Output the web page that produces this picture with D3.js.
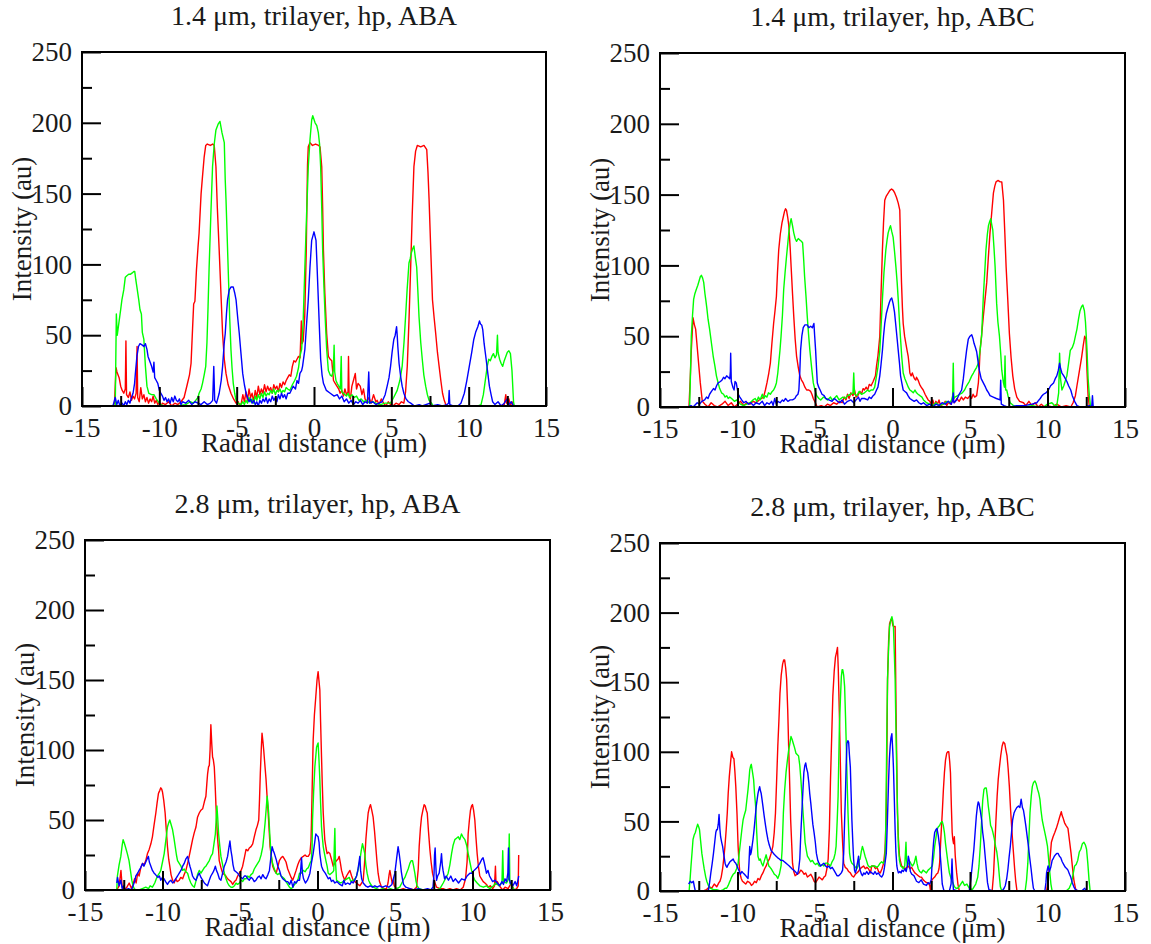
<!DOCTYPE html>
<html>
<head>
<meta charset="utf-8">
<script src="https://cdn.jsdelivr.net/npm/d3@7"></script>
<style>
  html, body { margin: 0; padding: 0; background: #ffffff; }
  svg { display: block; }
  text { font-family: "Liberation Serif", "Times New Roman", serif; fill: #1a1a1a; }
</style>
</head>
<body>
<svg id="chart" width="1151" height="944"></svg>
<script>
// ---- Panel titles and axis ticks ----
const panelTitles = [
  "1.4 \u03bcm, trilayer, hp, ABA",
  "1.4 \u03bcm, trilayer, hp, ABC",
  "2.8 \u03bcm, trilayer, hp, ABA",
  "2.8 \u03bcm, trilayer, hp, ABC"
];
const xMajorTicks = [-15, -10, -5, 0, 5, 10, 15];
const xMinorTicks = [-12.5, -7.5, -2.5, 2.5, 7.5, 12.5];
const yMajorTicks = [0, 50, 100, 150, 200, 250];
const yMinorTicks = [25, 75, 125, 175, 225];
const xTitle = "Radial distance (\u03bcm)";
const yTitle = "Intensity (au)";

// ---- Intensity profiles: [radial distance (um), intensity (au)] ----
// 1.4 um, ABA
const aba14Red = [[-13.0,0],[-12.9,2],[-12.8,27],[-12.74,24],[-12.6,20],[-12.5,14],[-12.4,11],[-12.3,9],[-12.2,12],[-12.16,46],[-12.12,8],[-12.0,6],[-11.9,10],[-11.8,4],[-11.7,7],[-11.6,5],[-11.5,9],[-11.44,42],[-11.4,6],[-11.3,3],[-11.2,13],[-11.1,5],[-11.0,8],[-10.9,3],[-10.8,6],[-10.7,2],[-10.6,5],[-10.5,3],[-10.4,7],[-10.3,2],[-10.2,4],[-10.1,1],[-10.0,3],[-9.9,0],[-9.8,2],[-9.6,1],[-9.4,3],[-9.2,0],[-9.0,2],[-8.8,1],[-8.6,3],[-8.4,6],[-8.2,15],[-8.05,22],[-7.95,30],[-7.85,55],[-7.78,72],[-7.7,74],[-7.6,96],[-7.5,112],[-7.43,122],[-7.3,150],[-7.21,162],[-7.1,176],[-7.0,184],[-6.9,185],[-6.7,184],[-6.55,185],[-6.45,184],[-6.34,169],[-6.25,140],[-6.13,110],[-6.0,75],[-5.91,51],[-5.8,33],[-5.69,23],[-5.55,15],[-5.37,9],[-5.2,5],[-5.04,2],[-4.9,3],[-4.8,0],[-4.7,2],[-4.6,8],[-4.5,3],[-4.4,10],[-4.3,4],[-4.2,12],[-4.1,6],[-4.0,9],[-3.9,3],[-3.8,11],[-3.7,6],[-3.6,14],[-3.5,8],[-3.4,12],[-3.3,9],[-3.2,15],[-3.1,10],[-3.0,14],[-2.9,11],[-2.8,13],[-2.7,9],[-2.6,15],[-2.5,12],[-2.4,14],[-2.3,10],[-2.2,16],[-2.1,13],[-2.0,17],[-1.9,15],[-1.8,18],[-1.7,20],[-1.6,22],[-1.5,21],[-1.4,28],[-1.3,32],[-1.2,31],[-1.1,33],[-1.0,35],[-0.9,34],[-0.82,60],[-0.78,44],[-0.7,46],[-0.6,63],[-0.5,110],[-0.42,170],[-0.37,183],[-0.26,186],[-0.1,184],[0.1,185],[0.3,184],[0.39,183],[0.5,169],[0.56,140],[0.61,110],[0.7,80],[0.82,51],[0.93,35],[1.05,33],[1.15,32],[1.26,18],[1.37,16],[1.48,14],[1.6,12],[1.69,9],[1.8,11],[1.9,7],[2.0,12],[2.1,8],[2.2,10],[2.23,35],[2.27,8],[2.35,5],[2.45,14],[2.55,18],[2.67,23],[2.75,12],[2.85,16],[2.99,14],[3.1,8],[3.2,12],[3.3,5],[3.43,3],[3.55,6],[3.7,2],[3.85,8],[4.0,3],[4.08,4],[4.2,1],[4.35,5],[4.5,2],[4.65,0],[4.8,3],[4.95,1],[5.1,0],[5.3,2],[5.5,1],[5.65,3],[5.81,2],[5.92,10],[6.03,28],[6.14,60],[6.25,98],[6.35,135],[6.46,169],[6.57,180],[6.68,184],[6.9,183],[7.11,184],[7.29,181],[7.37,165],[7.44,146],[7.55,110],[7.66,75],[7.77,62],[7.87,51],[7.98,38],[8.09,28],[8.2,18],[8.31,9],[8.42,4],[8.52,1],[8.7,0],[9.5,0],[10.5,0],[11.5,0],[12.0,0],[12.3,1],[12.4,8],[12.45,2],[12.6,5],[12.7,0],[12.8,3],[12.9,0]];
const aba14Green = [[-12.85,0],[-12.78,65],[-12.72,50],[-12.6,60],[-12.5,68],[-12.42,75],[-12.3,82],[-12.2,91],[-12.1,92],[-11.98,93],[-11.88,93],[-11.75,94],[-11.65,95],[-11.59,95],[-11.52,89],[-11.45,84],[-11.33,75],[-11.25,68],[-11.16,65],[-11.1,52],[-11.0,47],[-10.9,28],[-10.8,14],[-10.68,9],[-10.5,8],[-10.35,8],[-10.2,5],[-10.13,4],[-10.0,2],[-9.92,1],[-9.7,0],[-9.0,0],[-8.3,1],[-8.0,3],[-7.8,2],[-7.65,4],[-7.5,6],[-7.43,9],[-7.3,12],[-7.21,16],[-7.1,22],[-7.0,28],[-6.92,45],[-6.85,70],[-6.78,98],[-6.67,135],[-6.56,169],[-6.45,185],[-6.34,195],[-6.2,199],[-6.08,201],[-5.95,193],[-5.8,186],[-5.74,160],[-5.69,146],[-5.6,115],[-5.52,87],[-5.45,62],[-5.37,40],[-5.3,27],[-5.22,16],[-5.13,9],[-5.04,4],[-4.9,2],[-4.72,1],[-4.6,3],[-4.5,1],[-4.4,4],[-4.3,2],[-4.2,6],[-4.1,3],[-4.0,5],[-3.9,2],[-3.8,7],[-3.7,4],[-3.6,8],[-3.5,5],[-3.4,9],[-3.3,6],[-3.2,10],[-3.1,7],[-3.0,9],[-2.9,8],[-2.8,11],[-2.7,9],[-2.6,12],[-2.5,8],[-2.4,11],[-2.3,10],[-2.2,12],[-2.1,9],[-2.0,11],[-1.9,10],[-1.8,13],[-1.7,12],[-1.56,11],[-1.4,15],[-1.25,18],[-1.13,21],[-1.0,27],[-0.91,35],[-0.8,40],[-0.7,60],[-0.59,98],[-0.48,135],[-0.37,169],[-0.26,188],[-0.15,202],[-0.08,205],[0.07,200],[0.18,198],[0.28,193],[0.36,185],[0.43,169],[0.5,140],[0.56,110],[0.64,85],[0.72,63],[0.82,40],[0.93,25],[1.04,22],[1.15,21],[1.25,25],[1.3,43],[1.34,24],[1.42,18],[1.5,16],[1.6,14],[1.7,12],[1.76,35],[1.8,10],[1.9,9],[2.0,8],[2.1,7],[2.2,9],[2.3,6],[2.45,8],[2.6,6],[2.75,7],[2.9,4],[3.05,5],[3.2,3],[3.4,4],[3.6,2],[3.8,3],[4.0,2],[4.3,1],[4.6,2],[4.95,2],[5.15,6],[5.38,11],[5.55,18],[5.7,28],[5.82,45],[5.92,63],[6.02,82],[6.14,101],[6.22,104],[6.29,108],[6.38,111],[6.46,113],[6.55,105],[6.64,98],[6.72,80],[6.79,63],[6.9,45],[7.0,33],[7.1,22],[7.22,14],[7.33,8],[7.44,4],[7.6,2],[7.7,0],[9.0,0],[10.6,0],[10.8,1],[10.95,8],[11.1,20],[11.2,28],[11.3,33],[11.4,32],[11.5,35],[11.6,37],[11.7,34],[11.8,36],[11.86,50],[11.9,38],[12.0,33],[12.1,30],[12.2,28],[12.3,32],[12.4,35],[12.5,38],[12.6,39],[12.7,37],[12.8,25],[12.9,3],[12.95,0]];
const aba14Blue = [[-13.0,0],[-12.95,2],[-12.85,6],[-12.75,1],[-12.65,4],[-12.55,0],[-12.4,2],[-12.3,0],[-12.2,3],[-12.1,1],[-12.0,4],[-11.9,2],[-11.8,6],[-11.7,9],[-11.6,16],[-11.55,23],[-11.45,35],[-11.35,42],[-11.25,44],[-11.1,43],[-11.0,42],[-10.9,44],[-10.8,40],[-10.73,35],[-10.6,31],[-10.5,28],[-10.4,24],[-10.35,31],[-10.3,20],[-10.2,18],[-10.1,16],[-10.0,11],[-9.9,9],[-9.8,7],[-9.7,4],[-9.6,6],[-9.5,3],[-9.4,5],[-9.3,2],[-9.2,6],[-9.1,3],[-9.0,7],[-8.9,4],[-8.8,3],[-8.7,5],[-8.6,1],[-8.5,3],[-8.3,2],[-8.1,4],[-7.9,1],[-7.7,3],[-7.5,2],[-7.3,1],[-7.1,3],[-6.9,1],[-6.7,2],[-6.55,4],[-6.48,28],[-6.42,4],[-6.3,2],[-6.13,9],[-6.0,18],[-5.91,28],[-5.8,45],[-5.74,51],[-5.66,65],[-5.59,75],[-5.48,82],[-5.37,84],[-5.22,84],[-5.13,80],[-5.04,75],[-4.93,62],[-4.83,51],[-4.72,37],[-4.61,23],[-4.5,15],[-4.39,9],[-4.3,6],[-4.2,3],[-4.1,5],[-4.0,2],[-3.9,4],[-3.8,1],[-3.7,3],[-3.6,0],[-3.5,4],[-3.4,2],[-3.3,5],[-3.2,3],[-3.1,6],[-3.0,2],[-2.9,5],[-2.8,3],[-2.7,7],[-2.6,4],[-2.5,6],[-2.4,3],[-2.3,8],[-2.2,5],[-2.1,9],[-2.0,6],[-1.9,8],[-1.8,5],[-1.7,9],[-1.56,9],[-1.35,14],[-1.2,12],[-1.1,18],[-1.0,16],[-0.91,23],[-0.8,25],[-0.74,28],[-0.59,40],[-0.48,58],[-0.37,75],[-0.26,98],[-0.15,117],[0.0,123],[0.13,117],[0.2,98],[0.28,75],[0.36,52],[0.43,33],[0.52,22],[0.61,16],[0.8,11],[1.05,9],[1.3,7],[1.5,8],[1.65,5],[1.8,7],[1.95,3],[2.1,5],[2.25,2],[2.4,4],[2.55,1],[2.7,3],[2.85,2],[3.0,4],[3.15,1],[3.3,3],[3.45,2],[3.54,24],[3.6,2],[3.8,3],[4.0,1],[4.2,2],[4.4,3],[4.6,8],[4.73,14],[4.85,20],[4.95,28],[5.05,38],[5.16,47],[5.25,50],[5.34,56],[5.38,50],[5.42,42],[5.5,30],[5.6,21],[5.7,14],[5.81,9],[5.95,5],[6.1,3],[6.25,2],[6.5,0],[6.8,1],[7.0,0],[7.5,2],[7.6,0],[8.0,1],[8.3,0],[8.6,1],[8.7,2],[8.74,11],[8.78,1],[9.0,0],[9.3,0],[9.5,2],[9.72,9],[9.88,18],[10.04,28],[10.2,38],[10.33,47],[10.45,52],[10.59,56],[10.7,60],[10.76,58],[10.85,57],[10.91,54],[11.0,44],[11.13,33],[11.25,22],[11.34,14],[11.45,8],[11.55,3],[11.7,1],[11.9,3],[12.1,0],[12.3,2],[12.5,5],[12.6,1],[12.75,3],[12.9,0]];

// 1.4 um, ABC
const abc14Red = [[-13.13,0],[-13.05,20],[-12.98,40],[-12.87,63],[-12.78,58],[-12.7,55],[-12.55,36],[-12.4,17],[-12.27,4],[-12.1,2],[-11.9,0],[-11.7,3],[-11.5,1],[-11.3,0],[-11.0,2],[-10.8,4],[-10.6,1],[-10.4,3],[-10.2,0],[-10.0,2],[-9.8,4],[-9.6,1],[-9.4,3],[-9.2,2],[-9.0,4],[-8.8,3],[-8.6,5],[-8.45,6],[-8.32,7],[-8.2,12],[-8.1,17],[-7.98,24],[-7.88,31],[-7.78,45],[-7.67,59],[-7.58,68],[-7.49,78],[-7.42,95],[-7.34,111],[-7.24,122],[-7.13,130],[-7.05,134],[-6.97,138],[-6.9,140],[-6.84,139],[-6.76,134],[-6.69,128],[-6.6,112],[-6.54,99],[-6.45,80],[-6.37,64],[-6.28,48],[-6.19,36],[-6.08,28],[-5.98,22],[-5.87,19],[-5.76,17],[-5.65,14],[-5.54,12],[-5.4,12],[-5.28,11],[-5.2,9],[-5.11,6],[-4.98,3],[-4.85,0],[-4.6,1],[-4.4,0],[-4.2,2],[-4.0,1],[-3.8,3],[-3.6,2],[-3.4,4],[-3.25,3],[-3.11,7],[-3.0,5],[-2.9,9],[-2.8,6],[-2.68,10],[-2.55,8],[-2.45,12],[-2.35,7],[-2.24,8],[-2.1,11],[-2.0,9],[-1.9,13],[-1.81,12],[-1.7,14],[-1.6,12],[-1.5,16],[-1.38,15],[-1.25,18],[-1.1,22],[-1.03,29],[-0.94,36],[-0.82,50],[-0.74,80],[-0.65,111],[-0.58,130],[-0.5,146],[-0.4,149],[-0.28,151],[-0.17,153],[-0.06,154],[0.05,153],[0.15,151],[0.26,148],[0.37,144],[0.47,139],[0.53,110],[0.58,88],[0.64,70],[0.69,59],[0.78,50],[0.86,45],[0.94,40],[1.01,36],[1.07,30],[1.12,24],[1.2,22],[1.28,24],[1.34,22],[1.42,20],[1.5,19],[1.55,21],[1.65,19],[1.75,16],[1.85,14],[1.98,12],[2.1,9],[2.2,7],[2.3,5],[2.41,4],[2.5,2],[2.6,5],[2.7,1],[2.8,4],[2.9,2],[3.0,5],[3.1,1],[3.28,2],[3.4,4],[3.5,1],[3.6,3],[3.75,2],[3.9,5],[4.0,3],[4.15,6],[4.3,4],[4.45,7],[4.57,5],[4.7,7],[4.85,6],[5.0,8],[5.1,6],[5.2,9],[5.3,7],[5.43,8],[5.54,17],[5.6,28],[5.65,40],[5.76,52],[5.86,64],[5.97,76],[6.08,88],[6.18,105],[6.29,123],[6.4,137],[6.51,151],[6.6,156],[6.68,159],[6.8,160],[6.95,159],[7.05,159],[7.16,146],[7.25,122],[7.33,99],[7.44,75],[7.54,52],[7.65,35],[7.76,22],[7.88,13],[8.02,7],[8.2,4],[8.45,3],[8.6,1],[8.8,4],[9.0,1],[9.2,3],[9.4,0],[9.6,2],[9.8,0],[10.0,1],[10.3,0],[10.6,2],[10.9,0],[11.2,1],[11.5,0],[11.65,3],[11.8,8],[11.9,15],[12.05,25],[12.2,35],[12.3,43],[12.4,50],[12.48,48],[12.55,25],[12.62,8],[12.7,0]];
const abc14Green = [[-13.09,0],[-13.03,25],[-12.98,50],[-12.9,65],[-12.83,76],[-12.75,80],[-12.66,83],[-12.56,86],[-12.48,89],[-12.4,92],[-12.33,93],[-12.25,91],[-12.18,88],[-12.1,80],[-12.05,76],[-11.98,70],[-11.9,62],[-11.8,55],[-11.68,45],[-11.57,36],[-11.46,29],[-11.36,22],[-11.25,17],[-11.15,13],[-11.03,10],[-10.9,9],[-10.8,7],[-10.7,8],[-10.6,6],[-10.5,7],[-10.38,6],[-10.2,4],[-10.05,5],[-9.95,3],[-9.8,2],[-9.62,1],[-9.4,2],[-9.19,3],[-9.0,5],[-8.86,6],[-8.75,4],[-8.65,7],[-8.54,5],[-8.4,9],[-8.3,6],[-8.21,8],[-8.1,7],[-8.0,10],[-7.88,9],[-7.76,11],[-7.67,12],[-7.58,14],[-7.49,17],[-7.4,24],[-7.34,31],[-7.26,40],[-7.19,50],[-7.1,65],[-7.02,83],[-6.93,95],[-6.84,106],[-6.76,115],[-6.69,123],[-6.6,130],[-6.54,133],[-6.45,128],[-6.37,123],[-6.28,119],[-6.19,117],[-6.08,119],[-5.98,118],[-5.88,117],[-5.8,116],[-5.73,104],[-5.67,92],[-5.58,78],[-5.5,64],[-5.42,52],[-5.33,40],[-5.22,28],[-5.11,17],[-5.0,12],[-4.89,8],[-4.75,6],[-4.63,5],[-4.45,7],[-4.3,6],[-4.2,5],[-4.0,7],[-3.9,5],[-3.76,6],[-3.6,8],[-3.45,5],[-3.33,6],[-3.2,7],[-3.05,6],[-2.9,8],[-2.7,9],[-2.55,10],[-2.5,24],[-2.45,9],[-2.3,8],[-2.15,11],[-2.0,9],[-1.81,10],[-1.6,12],[-1.5,11],[-1.38,12],[-1.25,12],[-1.15,14],[-1.03,22],[-0.94,28],[-0.82,40],[-0.74,56],[-0.65,76],[-0.55,95],[-0.43,111],[-0.35,118],[-0.28,123],[-0.2,126],[-0.13,128],[-0.05,124],[0.04,120],[0.13,110],[0.22,99],[0.3,88],[0.37,76],[0.45,60],[0.52,48],[0.6,35],[0.69,24],[0.8,20],[0.91,17],[1.02,14],[1.12,12],[1.25,11],[1.34,10],[1.45,12],[1.55,10],[1.65,9],[1.77,8],[1.9,7],[2.0,5],[2.2,3],[2.4,2],[2.63,1],[2.8,3],[3.0,1],[3.28,2],[3.5,4],[3.7,3],[3.81,5],[3.88,8],[3.92,31],[3.96,6],[4.03,7],[4.2,8],[4.35,9],[4.5,10],[4.65,12],[4.78,15],[4.95,18],[5.11,22],[5.22,24],[5.32,26],[5.43,28],[5.54,31],[5.65,40],[5.75,50],[5.86,78],[5.95,95],[6.03,111],[6.12,122],[6.19,128],[6.27,131],[6.34,133],[6.4,129],[6.47,125],[6.55,112],[6.62,99],[6.67,86],[6.72,73],[6.8,60],[6.9,50],[6.98,38],[7.05,26],[7.12,20],[7.16,17],[7.22,14],[7.26,36],[7.3,12],[7.37,12],[7.45,8],[7.59,3],[7.8,1],[8.02,0],[8.5,0],[9.0,1],[9.5,0],[9.74,0],[10.0,2],[10.28,3],[10.45,1],[10.6,1],[10.72,10],[10.78,38],[10.84,20],[10.93,12],[11.05,15],[11.25,22],[11.35,30],[11.47,40],[11.6,42],[11.7,45],[11.8,50],[11.9,55],[12.0,62],[12.1,68],[12.2,71],[12.28,72],[12.38,68],[12.45,60],[12.55,40],[12.62,20],[12.7,8],[12.78,0]];
const abc14Blue = [[-13.2,0],[-13.0,1],[-12.87,0],[-12.77,1],[-12.6,3],[-12.45,2],[-12.3,4],[-12.12,5],[-12.0,7],[-11.9,6],[-11.8,9],[-11.68,11],[-11.55,13],[-11.45,12],[-11.35,15],[-11.25,17],[-11.1,18],[-11.0,19],[-10.9,21],[-10.81,20],[-10.7,22],[-10.6,21],[-10.5,20],[-10.46,25],[-10.44,38],[-10.4,18],[-10.3,14],[-10.22,12],[-10.16,18],[-10.08,17],[-10.0,12],[-9.95,9],[-9.85,7],[-9.73,5],[-9.6,3],[-9.45,4],[-9.3,2],[-9.15,3],[-8.97,1],[-8.8,3],[-8.6,2],[-8.4,4],[-8.25,1],[-8.1,3],[-7.95,2],[-7.8,4],[-7.7,1],[-7.6,6],[-7.5,2],[-7.4,4],[-7.25,3],[-7.1,5],[-7.02,4],[-6.9,6],[-6.75,4],[-6.6,5],[-6.45,5],[-6.3,6],[-6.2,8],[-6.1,9],[-6.04,12],[-5.98,25],[-5.93,40],[-5.85,50],[-5.76,56],[-5.65,58],[-5.5,58],[-5.4,56],[-5.28,57],[-5.17,56],[-5.1,58],[-5.07,59],[-5.02,50],[-4.96,40],[-4.9,27],[-4.85,17],[-4.76,14],[-4.67,12],[-4.55,9],[-4.41,8],[-4.3,6],[-4.1,5],[-3.9,4],[-3.75,6],[-3.55,4],[-3.4,3],[-3.25,5],[-3.1,2],[-2.9,4],[-2.68,5],[-2.5,3],[-2.35,5],[-2.2,7],[-2.1,4],[-2.0,6],[-1.81,6],[-1.6,5],[-1.5,7],[-1.38,6],[-1.25,8],[-1.15,9],[-1.03,12],[-0.94,14],[-0.82,22],[-0.74,30],[-0.65,40],[-0.58,50],[-0.5,59],[-0.4,66],[-0.28,71],[-0.2,74],[-0.13,76],[-0.05,77],[0.04,73],[0.13,67],[0.22,57],[0.3,48],[0.37,40],[0.45,31],[0.52,22],[0.6,17],[0.69,12],[0.8,11],[0.91,10],[1.0,8],[1.12,6],[1.25,5],[1.4,4],[1.55,5],[1.7,3],[1.85,2],[2.0,3],[2.2,1],[2.4,2],[2.6,0],[2.8,2],[3.0,1],[3.2,3],[3.4,2],[3.6,4],[3.8,2],[3.88,5],[3.92,10],[3.96,3],[4.14,5],[4.3,9],[4.46,12],[4.57,20],[4.68,31],[4.78,40],[4.89,48],[5.0,50],[5.11,51],[5.2,48],[5.26,45],[5.35,42],[5.43,39],[5.52,32],[5.6,26],[5.72,20],[5.86,17],[6.0,14],[6.08,12],[6.2,10],[6.29,8],[6.5,7],[6.7,6],[6.94,5],[6.98,19],[7.02,2],[7.2,1],[7.4,0],[7.59,0],[8.0,1],[8.5,1],[9.0,2],[9.31,3],[9.45,5],[9.53,6],[9.65,8],[9.74,9],[9.9,10],[10.06,12],[10.2,15],[10.39,17],[10.5,20],[10.6,22],[10.7,26],[10.78,31],[10.85,27],[10.93,24],[11.05,22],[11.15,20],[11.25,18],[11.36,15],[11.5,12],[11.6,8],[11.75,4],[11.9,1],[12.1,0],[12.4,0],[12.7,1],[12.85,0],[12.9,8],[12.95,0]];

// 2.8 um, ABA
const aba28Red = [[-12.95,0],[-12.8,3],[-12.68,14],[-12.6,2],[-12.45,0],[-12.3,2],[-12.15,5],[-12.0,1],[-11.9,4],[-11.8,8],[-11.7,5],[-11.6,12],[-11.51,10],[-11.4,16],[-11.29,19],[-11.18,18],[-11.08,21],[-10.97,26],[-10.86,29],[-10.75,33],[-10.65,38],[-10.55,46],[-10.43,55],[-10.35,62],[-10.26,69],[-10.18,71],[-10.11,73],[-10.05,72],[-10.0,70],[-9.92,64],[-9.83,55],[-9.75,42],[-9.68,31],[-9.6,22],[-9.53,17],[-9.45,11],[-9.35,7],[-9.25,5],[-9.15,8],[-9.05,6],[-8.92,7],[-8.82,9],[-8.7,8],[-8.6,11],[-8.49,14],[-8.38,19],[-8.28,24],[-8.17,30],[-8.06,36],[-7.95,41],[-7.84,45],[-7.74,52],[-7.63,55],[-7.52,57],[-7.41,58],[-7.3,63],[-7.2,67],[-7.14,76],[-7.09,83],[-7.03,88],[-6.98,89],[-6.93,100],[-6.88,118],[-6.82,104],[-6.77,95],[-6.72,93],[-6.66,88],[-6.6,74],[-6.55,60],[-6.5,47],[-6.44,36],[-6.38,28],[-6.34,21],[-6.23,16],[-6.12,12],[-6.0,11],[-5.91,10],[-5.8,8],[-5.69,7],[-5.58,6],[-5.47,4],[-5.36,6],[-5.26,7],[-5.15,10],[-5.04,12],[-4.93,14],[-4.83,17],[-4.72,23],[-4.61,29],[-4.5,28],[-4.4,30],[-4.29,31],[-4.18,33],[-4.08,38],[-3.97,43],[-3.88,46],[-3.79,50],[-3.74,65],[-3.69,83],[-3.63,100],[-3.58,112],[-3.52,106],[-3.47,100],[-3.4,90],[-3.32,79],[-3.26,68],[-3.21,60],[-3.13,45],[-3.06,31],[-2.98,24],[-2.89,17],[-2.78,14],[-2.67,12],[-2.57,16],[-2.46,21],[-2.35,23],[-2.24,24],[-2.13,22],[-2.03,20],[-1.92,15],[-1.81,12],[-1.7,9],[-1.6,7],[-1.5,10],[-1.38,14],[-1.27,18],[-1.16,21],[-1.05,23],[-0.92,24],[-0.8,25],[-0.7,24],[-0.6,24],[-0.49,26],[-0.42,35],[-0.39,48],[-0.33,80],[-0.28,107],[-0.2,125],[-0.11,138],[-0.03,150],[0.04,156],[0.09,150],[0.15,143],[0.2,120],[0.26,95],[0.31,75],[0.37,55],[0.42,45],[0.47,36],[0.55,30],[0.62,26],[0.7,27],[0.8,26],[0.9,22],[1.01,17],[1.1,19],[1.23,21],[1.32,22],[1.4,24],[1.48,19],[1.55,14],[1.65,10],[1.76,7],[1.87,10],[1.98,12],[2.09,14],[2.2,10],[2.3,7],[2.41,6],[2.52,5],[2.62,4],[2.73,3],[2.85,5],[2.95,7],[3.04,20],[3.12,36],[3.2,47],[3.27,55],[3.35,59],[3.42,61],[3.5,57],[3.59,52],[3.68,42],[3.76,31],[3.84,20],[3.91,12],[4.0,6],[4.13,2],[4.3,1],[4.45,1],[4.55,5],[4.62,11],[4.67,14],[4.75,9],[4.82,5],[4.88,7],[4.95,3],[5.1,1],[5.3,0],[5.53,1],[5.75,0],[5.96,1],[6.2,0],[6.39,2],[6.5,15],[6.56,31],[6.64,44],[6.71,52],[6.8,57],[6.88,61],[6.95,60],[7.02,57],[7.08,55],[7.16,42],[7.25,29],[7.33,20],[7.42,12],[7.55,6],[7.68,2],[7.9,1],[8.11,1],[8.3,0],[8.54,1],[8.75,0],[8.97,1],[9.2,0],[9.4,2],[9.55,8],[9.65,20],[9.72,40],[9.8,50],[9.87,57],[9.94,60],[10.0,61],[10.07,57],[10.15,50],[10.22,38],[10.3,26],[10.38,17],[10.47,10],[10.58,8],[10.69,6],[10.8,5],[10.9,4],[11.0,2],[11.15,3],[11.3,1],[11.42,3],[11.48,17],[11.52,4],[11.6,6],[11.8,2],[11.95,0],[12.1,2],[12.3,1],[12.5,5],[12.6,2],[12.7,0],[12.85,1],[12.95,3],[12.98,25]];
const aba28Green = [[-12.95,0],[-12.91,10],[-12.8,18],[-12.69,24],[-12.6,32],[-12.54,36],[-12.45,33],[-12.37,30],[-12.27,26],[-12.16,21],[-12.07,14],[-11.98,7],[-11.9,3],[-11.83,1],[-11.7,0],[-11.51,0],[-11.3,1],[-11.08,2],[-10.9,1],[-10.8,3],[-10.65,2],[-10.5,5],[-10.4,8],[-10.32,10],[-10.2,12],[-10.11,14],[-10.0,20],[-9.89,26],[-9.78,36],[-9.68,45],[-9.6,48],[-9.53,50],[-9.45,47],[-9.35,43],[-9.26,37],[-9.18,31],[-9.1,25],[-9.03,21],[-8.92,19],[-8.81,17],[-8.7,14],[-8.6,15],[-8.49,13],[-8.38,12],[-8.28,8],[-8.17,5],[-8.06,3],[-7.95,2],[-7.85,6],[-7.74,11],[-7.63,14],[-7.52,12],[-7.41,14],[-7.3,16],[-7.2,17],[-7.09,19],[-6.98,21],[-6.88,24],[-6.77,26],[-6.68,33],[-6.59,40],[-6.54,50],[-6.49,60],[-6.44,52],[-6.38,40],[-6.3,31],[-6.23,24],[-6.12,18],[-6.01,12],[-5.9,8],[-5.8,5],[-5.69,3],[-5.58,2],[-5.47,2],[-5.36,3],[-5.26,5],[-5.15,4],[-5.04,5],[-4.93,7],[-4.83,6],[-4.72,8],[-4.61,8],[-4.5,10],[-4.4,9],[-4.29,11],[-4.18,12],[-4.08,15],[-3.97,17],[-3.86,19],[-3.75,21],[-3.64,25],[-3.53,31],[-3.45,40],[-3.38,48],[-3.31,58],[-3.25,67],[-3.2,62],[-3.15,55],[-3.08,40],[-3.0,26],[-2.92,20],[-2.84,17],[-2.75,14],[-2.67,12],[-2.56,11],[-2.46,12],[-2.35,10],[-2.24,9],[-2.13,8],[-2.03,6],[-1.92,4],[-1.81,2],[-1.7,1],[-1.59,2],[-1.48,4],[-1.38,5],[-1.27,7],[-1.16,12],[-1.05,12],[-0.92,14],[-0.8,13],[-0.7,15],[-0.59,16],[-0.49,19],[-0.4,21],[-0.35,30],[-0.32,50],[-0.25,70],[-0.17,88],[-0.1,97],[-0.06,102],[0.0,104],[0.04,105],[0.1,92],[0.15,79],[0.2,62],[0.26,45],[0.31,38],[0.37,31],[0.45,26],[0.54,21],[0.62,17],[0.69,12],[0.8,11],[0.9,12],[1.0,13],[1.05,14],[1.08,30],[1.12,44],[1.16,20],[1.23,7],[1.35,6],[1.5,5],[1.65,6],[1.76,7],[1.9,8],[2.05,9],[2.15,6],[2.3,7],[2.42,8],[2.52,10],[2.63,15],[2.73,21],[2.82,28],[2.9,33],[2.97,30],[3.05,26],[3.12,18],[3.2,12],[3.3,7],[3.38,5],[3.5,3],[3.6,2],[3.81,1],[4.0,0],[4.2,1],[4.45,0],[4.7,1],[4.9,0],[5.1,1],[5.3,2],[5.53,7],[5.64,9],[5.74,12],[5.85,15],[5.96,19],[6.05,21],[6.13,21],[6.2,17],[6.28,12],[6.36,6],[6.43,3],[6.55,1],[6.82,0],[7.68,0],[7.9,1],[8.11,5],[8.25,8],[8.35,10],[8.43,12],[8.54,18],[8.65,26],[8.75,32],[8.86,36],[8.97,37],[9.08,38],[9.18,36],[9.29,40],[9.38,38],[9.51,36],[9.62,32],[9.72,26],[9.83,20],[9.94,14],[10.04,10],[10.15,7],[10.3,5],[10.47,3],[10.7,2],[10.9,3],[11.12,1],[11.35,3],[11.5,5],[11.7,3],[11.9,5],[11.95,28],[12.0,6],[12.2,5],[12.33,8],[12.37,40],[12.41,5],[12.55,3],[12.7,0]];
const aba28Blue = [[-12.95,5],[-12.9,9],[-12.8,3],[-12.69,7],[-12.6,1],[-12.5,3],[-12.4,0],[-12.2,1],[-12.0,0],[-11.9,3],[-11.8,6],[-11.72,10],[-11.6,12],[-11.51,14],[-11.4,16],[-11.29,19],[-11.2,17],[-11.08,20],[-11.0,22],[-10.91,24],[-10.85,20],[-10.75,17],[-10.65,14],[-10.54,12],[-10.45,11],[-10.3,9],[-10.2,10],[-10.11,7],[-10.0,9],[-9.9,8],[-9.8,6],[-9.68,4],[-9.57,6],[-9.46,7],[-9.35,5],[-9.25,6],[-9.15,8],[-9.03,10],[-8.92,12],[-8.81,14],[-8.7,17],[-8.6,19],[-8.5,22],[-8.38,24],[-8.3,20],[-8.23,17],[-8.15,14],[-8.06,10],[-7.95,8],[-7.84,7],[-7.73,10],[-7.63,12],[-7.52,9],[-7.41,7],[-7.3,5],[-7.2,4],[-7.1,3],[-6.98,7],[-6.88,10],[-6.77,12],[-6.68,14],[-6.59,17],[-6.52,14],[-6.44,12],[-6.33,8],[-6.23,7],[-6.12,12],[-6.01,17],[-5.9,20],[-5.8,24],[-5.72,30],[-5.65,35],[-5.58,28],[-5.52,24],[-5.45,18],[-5.37,14],[-5.26,13],[-5.15,12],[-5.04,10],[-4.94,9],[-4.83,8],[-4.72,10],[-4.61,10],[-4.5,8],[-4.4,7],[-4.29,9],[-4.18,8],[-4.08,6],[-3.97,7],[-3.86,9],[-3.75,10],[-3.64,8],[-3.53,11],[-3.43,9],[-3.32,8],[-3.2,11],[-3.1,14],[-3.02,22],[-2.93,31],[-2.85,28],[-2.78,26],[-2.67,22],[-2.56,17],[-2.45,14],[-2.35,10],[-2.24,8],[-2.13,7],[-2.03,6],[-1.92,6],[-1.8,4],[-1.7,7],[-1.59,2],[-1.48,6],[-1.38,5],[-1.27,7],[-1.16,7],[-1.1,12],[-1.03,23],[-0.97,12],[-0.9,8],[-0.78,5],[-0.65,7],[-0.55,10],[-0.49,12],[-0.38,20],[-0.28,26],[-0.18,34],[-0.11,40],[-0.04,39],[0.04,38],[0.1,34],[0.15,26],[0.22,20],[0.26,17],[0.37,14],[0.5,12],[0.6,10],[0.7,8],[0.8,9],[0.9,6],[1.0,7],[1.12,5],[1.25,6],[1.44,4],[1.6,3],[1.7,7],[1.8,4],[1.95,5],[2.09,4],[2.2,6],[2.3,5],[2.4,7],[2.52,10],[2.6,14],[2.68,20],[2.73,24],[2.78,14],[2.85,8],[2.95,5],[3.1,3],[3.25,2],[3.4,3],[3.55,2],[3.7,3],[3.85,2],[4.0,3],[4.2,2],[4.4,3],[4.6,2],[4.8,4],[4.99,12],[5.1,22],[5.2,31],[5.27,26],[5.34,20],[5.41,13],[5.48,8],[5.55,4],[5.7,2],[5.96,1],[6.2,0],[6.5,1],[6.8,0],[7.1,1],[7.3,0],[7.45,2],[7.52,12],[7.55,25],[7.59,30],[7.63,18],[7.68,7],[7.75,10],[7.85,12],[7.95,20],[8.0,26],[8.05,18],[8.1,14],[8.2,8],[8.3,10],[8.45,7],[8.6,10],[8.75,6],[8.9,8],[9.1,5],[9.3,8],[9.5,7],[9.65,10],[9.83,12],[9.95,12],[10.1,14],[10.3,16],[10.47,19],[10.6,22],[10.68,23],[10.75,20],[10.9,12],[11.0,14],[11.1,10],[11.2,8],[11.3,6],[11.45,7],[11.6,5],[11.75,3],[11.9,6],[12.0,4],[12.1,8],[12.2,6],[12.28,12],[12.32,30],[12.36,8],[12.45,5],[12.6,3],[12.75,6],[12.85,3],[12.95,8],[12.98,10]];

// 2.8 um, ABC
const abc28Red = [[-12.2,0],[-12.0,1],[-11.8,3],[-11.66,2],[-11.5,5],[-11.34,3],[-11.2,6],[-11.13,7],[-11.05,10],[-10.96,16],[-10.88,24],[-10.81,32],[-10.73,44],[-10.66,56],[-10.6,70],[-10.53,82],[-10.45,92],[-10.38,100],[-10.3,96],[-10.23,95],[-10.17,86],[-10.11,75],[-10.03,55],[-9.96,32],[-9.9,20],[-9.85,13],[-9.76,9],[-9.68,7],[-9.57,6],[-9.47,5],[-9.35,7],[-9.21,6],[-9.1,4],[-9.0,5],[-8.9,7],[-8.79,6],[-8.68,9],[-8.57,8],[-8.46,11],[-8.36,13],[-8.25,16],[-8.15,18],[-8.05,21],[-7.94,23],[-7.83,27],[-7.72,32],[-7.63,42],[-7.55,56],[-7.48,78],[-7.4,104],[-7.33,122],[-7.26,142],[-7.18,155],[-7.09,163],[-7.02,166],[-6.96,166],[-6.89,160],[-6.83,152],[-6.76,130],[-6.7,104],[-6.63,76],[-6.57,51],[-6.5,33],[-6.45,20],[-6.37,14],[-6.28,11],[-6.15,12],[-6.02,13],[-5.92,15],[-5.81,14],[-5.7,12],[-5.6,13],[-5.49,10],[-5.38,11],[-5.27,12],[-5.17,10],[-5.06,7],[-4.96,6],[-4.85,8],[-4.74,10],[-4.63,9],[-4.53,8],[-4.42,10],[-4.32,11],[-4.23,16],[-4.15,23],[-4.07,45],[-4.0,80],[-3.92,112],[-3.85,140],[-3.76,158],[-3.68,168],[-3.6,172],[-3.55,175],[-3.5,160],[-3.43,128],[-3.36,90],[-3.3,56],[-3.22,35],[-3.15,20],[-3.05,17],[-2.94,16],[-2.83,14],[-2.72,13],[-2.62,11],[-2.51,10],[-2.4,12],[-2.3,13],[-2.2,14],[-2.09,16],[-1.98,17],[-1.87,18],[-1.76,16],[-1.65,17],[-1.55,16],[-1.42,13],[-1.34,18],[-1.21,18],[-1.1,16],[-1.0,17],[-0.9,14],[-0.79,13],[-0.68,16],[-0.57,20],[-0.48,30],[-0.4,56],[-0.36,100],[-0.32,152],[-0.25,180],[-0.19,192],[-0.1,195],[-0.04,195],[0.02,191],[0.06,190],[0.12,190],[0.17,190],[0.2,160],[0.23,128],[0.28,90],[0.32,56],[0.38,38],[0.45,25],[0.52,21],[0.59,18],[0.7,17],[0.81,16],[0.92,17],[1.02,18],[1.12,16],[1.23,17],[1.33,15],[1.44,13],[1.55,12],[1.66,11],[1.77,10],[1.87,10],[1.98,8],[2.08,7],[2.19,6],[2.29,6],[2.4,4],[2.45,0],[2.51,7],[2.62,9],[2.72,10],[2.83,12],[2.93,13],[3.0,16],[3.04,20],[3.12,38],[3.21,56],[3.28,72],[3.35,85],[3.42,94],[3.5,99],[3.57,100],[3.63,100],[3.69,93],[3.74,85],[3.8,60],[3.85,42],[3.89,37],[3.94,34],[3.99,39],[4.05,25],[4.14,13],[4.22,5],[4.31,0],[5.0,0],[6.43,0],[6.52,12],[6.6,32],[6.67,50],[6.75,68],[6.82,80],[6.9,89],[6.98,97],[7.07,104],[7.15,107],[7.24,106],[7.32,101],[7.39,97],[7.46,88],[7.54,75],[7.62,58],[7.71,42],[7.8,28],[7.88,16],[7.95,7],[8.03,0],[9.0,0],[9.94,0],[10.0,5],[10.08,13],[10.17,24],[10.25,35],[10.36,39],[10.47,42],[10.57,45],[10.68,49],[10.78,53],[10.89,57],[10.95,54],[11.02,52],[11.1,49],[11.2,47],[11.32,45],[11.42,36],[11.52,27],[11.62,16],[11.7,8],[11.8,2],[11.9,0],[12.0,0]];
const abc28Green = [[-13.12,0],[-13.05,10],[-13.0,18],[-12.93,28],[-12.87,37],[-12.8,40],[-12.72,42],[-12.65,45],[-12.57,48],[-12.5,46],[-12.45,44],[-12.38,36],[-12.3,27],[-12.22,21],[-12.15,16],[-12.05,10],[-11.98,7],[-11.88,4],[-11.77,2],[-11.55,1],[-11.34,1],[-11.1,0],[-10.91,1],[-10.8,2],[-10.7,2],[-10.6,4],[-10.53,6],[-10.45,8],[-10.38,10],[-10.28,12],[-10.17,13],[-10.06,16],[-9.96,20],[-9.88,28],[-9.81,35],[-9.72,44],[-9.64,51],[-9.55,55],[-9.47,58],[-9.4,65],[-9.32,73],[-9.26,80],[-9.21,87],[-9.15,90],[-9.11,91],[-9.04,86],[-8.96,80],[-8.9,70],[-8.83,61],[-8.76,42],[-8.68,25],[-8.6,22],[-8.53,23],[-8.45,20],[-8.36,18],[-8.26,22],[-8.15,26],[-8.07,22],[-7.98,18],[-7.9,17],[-7.83,16],[-7.72,14],[-7.62,12],[-7.5,11],[-7.4,9],[-7.3,12],[-7.19,18],[-7.12,30],[-7.04,56],[-6.96,72],[-6.87,85],[-6.79,93],[-6.7,101],[-6.62,106],[-6.55,111],[-6.48,109],[-6.4,106],[-6.32,103],[-6.23,99],[-6.15,98],[-6.06,97],[-5.98,90],[-5.91,80],[-5.84,68],[-5.77,56],[-5.7,45],[-5.64,35],[-5.57,30],[-5.49,25],[-5.38,23],[-5.28,21],[-5.17,22],[-5.06,20],[-4.96,19],[-4.85,20],[-4.74,18],[-4.64,18],[-4.53,19],[-4.43,18],[-4.32,20],[-4.21,20],[-4.1,19],[-4.0,18],[-3.9,21],[-3.79,23],[-3.7,27],[-3.64,32],[-3.57,50],[-3.51,68],[-3.47,92],[-3.43,116],[-3.36,138],[-3.3,154],[-3.25,159],[-3.21,159],[-3.15,155],[-3.09,147],[-3.03,125],[-2.98,104],[-2.93,80],[-2.87,56],[-2.82,40],[-2.77,27],[-2.7,22],[-2.62,20],[-2.53,19],[-2.45,18],[-2.38,17],[-2.3,16],[-2.22,18],[-2.16,22],[-2.09,23],[-2.02,28],[-1.94,32],[-1.86,29],[-1.77,25],[-1.68,22],[-1.6,19],[-1.55,18],[-1.45,17],[-1.34,18],[-1.23,18],[-1.13,18],[-1.02,17],[-0.91,18],[-0.8,20],[-0.7,21],[-0.6,20],[-0.5,22],[-0.45,35],[-0.4,80],[-0.36,120],[-0.32,152],[-0.25,175],[-0.19,190],[-0.1,195],[-0.04,197],[0.02,194],[0.06,190],[0.12,170],[0.17,152],[0.22,118],[0.28,80],[0.33,55],[0.38,32],[0.45,22],[0.53,18],[0.62,17],[0.7,16],[0.79,18],[0.87,35],[0.91,22],[0.96,18],[1.05,20],[1.13,21],[1.22,19],[1.3,18],[1.4,20],[1.51,25],[1.58,20],[1.66,16],[1.75,14],[1.87,13],[1.97,15],[2.08,14],[2.19,13],[2.3,15],[2.4,16],[2.5,17],[2.57,18],[2.65,24],[2.72,32],[2.8,38],[2.87,44],[2.95,46],[3.04,47],[3.12,49],[3.21,50],[3.28,47],[3.35,42],[3.42,34],[3.5,27],[3.58,20],[3.67,13],[3.78,9],[3.89,6],[4.0,3],[4.1,2],[4.2,2],[4.35,4],[4.52,7],[4.65,4],[4.8,5],[4.95,2],[5.15,1],[5.37,5],[5.5,10],[5.58,18],[5.67,33],[5.75,51],[5.82,65],[5.9,73],[5.97,74],[6.05,74],[6.12,68],[6.18,61],[6.25,55],[6.33,47],[6.41,45],[6.48,42],[6.56,38],[6.65,32],[6.73,28],[6.82,20],[6.9,10],[6.96,3],[7.05,0],[8.0,0],[8.56,0],[8.65,8],[8.73,20],[8.8,38],[8.87,56],[8.95,68],[9.02,75],[9.1,78],[9.19,79],[9.27,77],[9.36,73],[9.44,70],[9.51,66],[9.58,58],[9.66,51],[9.75,46],[9.83,42],[9.92,37],[10.0,32],[10.08,22],[10.15,13],[10.22,5],[10.3,0],[11.2,0],[11.4,2],[11.55,6],[11.65,12],[11.75,18],[11.85,19],[11.95,22],[12.05,28],[12.15,30],[12.25,34],[12.35,35],[12.45,33],[12.52,30],[12.6,20],[12.68,8],[12.75,0]];
const abc28Blue = [[-13.15,5],[-13.05,7],[-12.95,6],[-12.85,7],[-12.78,3],[-12.72,0],[-12.19,0],[-11.95,0],[-11.87,1],[-11.8,6],[-11.72,13],[-11.63,20],[-11.55,27],[-11.47,35],[-11.4,42],[-11.35,44],[-11.3,44],[-11.24,48],[-11.19,55],[-11.14,45],[-11.09,39],[-11.02,35],[-10.96,32],[-10.91,28],[-10.87,25],[-10.8,20],[-10.74,18],[-10.68,17],[-10.6,19],[-10.49,21],[-10.38,22],[-10.28,23],[-10.2,21],[-10.11,20],[-10.03,18],[-9.96,16],[-9.88,14],[-9.81,12],[-9.72,14],[-9.64,13],[-9.55,12],[-9.47,11],[-9.4,10],[-9.32,9],[-9.26,20],[-9.21,32],[-9.16,26],[-9.11,28],[-9.05,33],[-9.0,37],[-8.94,43],[-8.89,49],[-8.84,55],[-8.79,61],[-8.73,66],[-8.68,70],[-8.62,73],[-8.57,75],[-8.52,72],[-8.47,70],[-8.42,66],[-8.36,61],[-8.28,54],[-8.19,47],[-8.12,42],[-8.04,37],[-7.95,33],[-7.83,29],[-7.75,28],[-7.68,27],[-7.6,26],[-7.51,25],[-7.42,24],[-7.3,23],[-7.2,22],[-7.09,22],[-6.98,21],[-6.87,20],[-6.77,19],[-6.66,18],[-6.58,17],[-6.49,16],[-6.38,15],[-6.28,14],[-6.2,13],[-6.13,12],[-6.06,15],[-5.98,23],[-5.92,40],[-5.85,56],[-5.78,72],[-5.72,85],[-5.66,90],[-5.6,92],[-5.54,88],[-5.47,85],[-5.4,78],[-5.34,70],[-5.27,63],[-5.21,56],[-5.14,48],[-5.06,42],[-4.98,35],[-4.91,27],[-4.82,22],[-4.74,20],[-4.64,18],[-4.53,19],[-4.43,20],[-4.32,18],[-4.22,17],[-4.11,18],[-4.0,16],[-3.89,17],[-3.78,15],[-3.68,13],[-3.58,11],[-3.47,11],[-3.38,12],[-3.3,13],[-3.22,15],[-3.15,27],[-3.09,50],[-3.04,68],[-2.99,90],[-2.94,106],[-2.88,108],[-2.83,107],[-2.78,98],[-2.72,89],[-2.67,70],[-2.62,51],[-2.56,35],[-2.51,23],[-2.45,15],[-2.4,13],[-2.34,15],[-2.3,18],[-2.25,21],[-2.19,25],[-2.14,18],[-2.09,15],[-2.0,12],[-1.94,11],[-1.85,13],[-1.77,12],[-1.66,14],[-1.55,12],[-1.45,14],[-1.34,13],[-1.23,12],[-1.13,14],[-1.02,12],[-0.91,13],[-0.8,11],[-0.7,10],[-0.6,12],[-0.53,16],[-0.46,22],[-0.4,27],[-0.33,50],[-0.25,80],[-0.2,95],[-0.15,104],[-0.1,110],[-0.04,113],[0.02,100],[0.06,89],[0.12,65],[0.17,44],[0.22,28],[0.28,18],[0.33,15],[0.38,13],[0.47,14],[0.55,13],[0.62,15],[0.7,14],[0.8,16],[0.88,14],[0.96,18],[1.02,25],[1.08,22],[1.15,14],[1.25,12],[1.38,11],[1.47,9],[1.55,7],[1.7,6],[1.85,8],[2.0,5],[2.19,4],[2.3,6],[2.4,5],[2.5,8],[2.57,23],[2.65,35],[2.72,42],[2.8,44],[2.87,45],[2.95,40],[3.04,32],[3.12,20],[3.21,5],[3.3,1],[3.35,0],[3.67,0],[3.78,5],[3.84,23],[3.88,10],[3.93,1],[4.2,0],[4.95,0],[5.05,8],[5.16,20],[5.25,30],[5.33,42],[5.41,54],[5.48,61],[5.53,64],[5.58,63],[5.66,58],[5.75,51],[5.82,42],[5.9,35],[5.97,26],[6.05,16],[6.13,6],[6.22,1],[6.5,0],[7.07,0],[7.2,2],[7.28,4],[7.37,9],[7.45,16],[7.52,24],[7.6,32],[7.68,42],[7.75,51],[7.84,56],[7.92,58],[8.02,60],[8.13,61],[8.22,60],[8.3,66],[8.38,60],[8.45,58],[8.52,53],[8.6,47],[8.68,40],[8.77,32],[8.85,24],[8.94,16],[9.02,8],[9.09,2],[9.19,0],[9.83,0],[9.9,6],[9.94,13],[10.0,16],[10.04,18],[10.12,14],[10.21,17],[10.3,22],[10.36,23],[10.44,25],[10.51,26],[10.6,27],[10.68,27],[10.77,25],[10.85,24],[10.95,21],[11.05,19],[11.15,17],[11.25,16],[11.32,15],[11.42,12],[11.5,10],[11.6,6],[11.7,3],[11.8,1],[12.0,0],[12.2,0],[12.4,2],[12.5,0]];

const seriesColors = ["#ff0000", "#00ff00", "#0000ff"];

// ---- Layout of the four plot frames ----
const panels = [
  { title: panelTitles[0], data: [aba14Red, aba14Green, aba14Blue], left: 82,  right: 546,  top: 52,  bottom: 406 },
  { title: panelTitles[1], data: [abc14Red, abc14Green, abc14Blue], left: 660, right: 1125, top: 53,  bottom: 407 },
  { title: panelTitles[2], data: [aba28Red, aba28Green, aba28Blue], left: 85,  right: 550,  top: 540, bottom: 890 },
  { title: panelTitles[3], data: [abc28Red, abc28Green, abc28Blue], left: 660, right: 1125, top: 543, bottom: 891 }
];

// plain hyphen for negative tick labels
const tickText = d => String(d);

const svg = d3.select("#chart");
svg.append("rect").attr("width", 1151).attr("height", 944).attr("fill", "#ffffff");

panels.forEach(p => {
  const g = svg.append("g");
  const x = d3.scaleLinear().domain([-15, 15]).range([p.left, p.right]);
  const y = d3.scaleLinear().domain([0, 250]).range([p.bottom, p.top]);

  // profile curves
  const line = d3.line().x(d => x(d[0])).y(d => y(d[1]));
  p.data.forEach((series, i) => {
    g.append("path")
      .datum(series)
      .attr("d", line)
      .attr("fill", "none")
      .attr("stroke", seriesColors[i])
      .attr("stroke-width", 1.4)
      .attr("stroke-linejoin", "round");
  });

  // frame
  g.append("rect")
    .attr("x", p.left).attr("y", p.top)
    .attr("width", p.right - p.left).attr("height", p.bottom - p.top)
    .attr("fill", "none").attr("stroke", "#000").attr("stroke-width", 2);

  // inward ticks, bottom axis
  const xAxis = d3.axisBottom(x).tickValues(xMajorTicks).tickFormat(tickText)
    .tickSize(-19).tickSizeOuter(0).tickPadding(12);
  const xMinor = d3.axisBottom(x).tickValues(xMinorTicks).tickFormat("")
    .tickSize(-10).tickSizeOuter(0);
  const gx = g.append("g").attr("transform", `translate(0,${p.bottom})`).call(xAxis);
  g.append("g").attr("transform", `translate(0,${p.bottom})`).call(xMinor)
    .select(".domain").remove();

  // inward ticks, left axis
  const yAxis = d3.axisLeft(y).tickValues(yMajorTicks).tickFormat(tickText)
    .tickSize(-19).tickSizeOuter(0).tickPadding(10);
  const yMinor = d3.axisLeft(y).tickValues(yMinorTicks).tickFormat("")
    .tickSize(-10).tickSizeOuter(0);
  const gy = g.append("g").attr("transform", `translate(${p.left},0)`).call(yAxis);
  g.append("g").attr("transform", `translate(${p.left},0)`).call(yMinor)
    .select(".domain").remove();

  [gx, gy].forEach(a => {
    a.select(".domain").remove();
    a.selectAll("text").attr("font-size", 27).attr("fill", "#1a1a1a")
      .attr("font-family", "Liberation Serif, serif");
  });
  g.selectAll(".tick line").attr("stroke", "#000").attr("stroke-width", 2);

  // titles
  const cx = (p.left + p.right) / 2;
  g.append("text")
    .attr("x", cx).attr("y", p.top - 27)
    .attr("text-anchor", "middle").attr("font-size", 28)
    .text(p.title);
  g.append("text")
    .attr("x", cx).attr("y", p.bottom + 46)
    .attr("text-anchor", "middle").attr("font-size", 27)
    .text(xTitle);
  g.append("text")
    .attr("transform", `translate(${p.left - 51},${(p.top + p.bottom) / 2}) rotate(-90)`)
    .attr("text-anchor", "middle").attr("font-size", 27)
    .text(yTitle);
});
</script>
</body>
</html>
